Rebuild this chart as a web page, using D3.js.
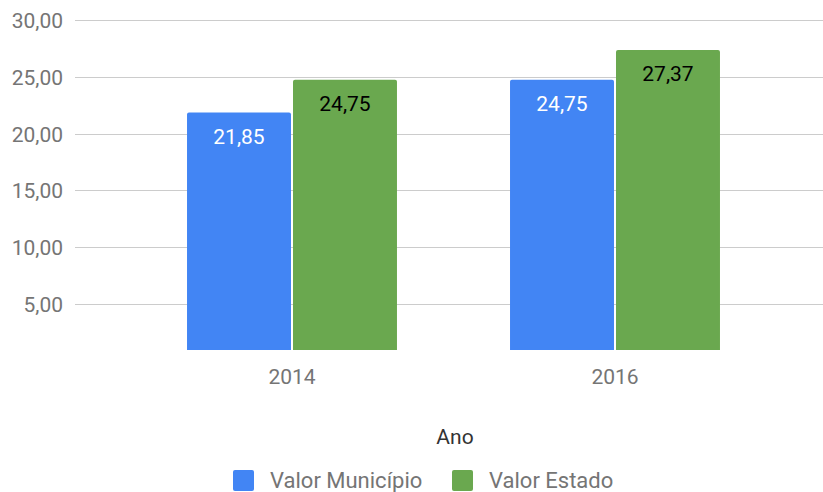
<!DOCTYPE html>
<html>
<head>
<meta charset="utf-8">
<script src="https://cdn.jsdelivr.net/npm/d3@7"></script>
<style>
    body { margin: 0; background: #fff; }
    svg { display: block; font-family: Roboto, "Noto Sans", sans-serif; }
</style>
</head>
<body>
<div id="chart"></div>
<script>
const years = ["2014", "2016"];
const seriesNames = ["Valor Município", "Valor Estado"];
const municipio = [21.85, 24.75];
const estado = [24.75, 27.37];
const yTicks = [5, 10, 15, 20, 25, 30];

const colors = ["#4285f4", "#6aa84f"];
const labelColors = ["#ffffff", "#000000"];
const fmt = v => d3.format(".2f")(v).replace(".", ",");

const width = 823;
const height = 492;

const rows = years.map((year, i) => ({
    year,
    values: [municipio[i], estado[i]]
}));

const svg = d3.select("#chart")
    .append("svg")
    .attr("width", width)
    .attr("height", height);

const y = d3.scaleLinear()
    .domain([0.95, 30])
    .range([350, 20]);

const x = d3.scaleBand()
    .domain(years)
    .range([130.5, 776.5])
    .paddingInner(0.35)
    .paddingOuter(0.175);

const xInner = d3.scaleBand()
    .domain(seriesNames)
    .range([0, x.bandwidth()])
    .paddingInner(0.019);

// gridlines + tick labels
const grid = svg.append("g");
grid.selectAll("line")
    .data(yTicks)
    .join("line")
        .attr("x1", 75)
        .attr("x2", width)
        .attr("y1", d => Math.round(y(d)) + 0.5)
        .attr("y2", d => Math.round(y(d)) + 0.5)
        .attr("stroke", "#cccccc")
        .attr("stroke-width", 1);

grid.selectAll("text")
    .data(yTicks)
    .join("text")
        .attr("x", 63)
        .attr("y", d => y(d) + 8)
        .attr("text-anchor", "end")
        .attr("fill", "#757575")
        .attr("font-size", 21)
        .text(fmt);

// bars with slightly rounded top corners
const barPath = (x0, w, top, bottom) => {
    const r = 2;
    return `M ${x0},${bottom} V ${top + r} Q ${x0},${top} ${x0 + r},${top}
        H ${x0 + w - r} Q ${x0 + w},${top} ${x0 + w},${top + r} V ${bottom} Z`;
};

const groups = svg.append("g")
    .selectAll("g")
    .data(rows)
    .join("g")
        .attr("transform", d => `translate(${x(d.year)},0)`);

const bars = groups.selectAll("g")
    .data(d => d.values.map((v, i) => ({ name: seriesNames[i], v, i })))
    .join("g");

bars.append("path")
    .attr("d", d => barPath(xInner(d.name), xInner.bandwidth(), y(d.v), y.range()[0]))
    .attr("fill", d => colors[d.i]);

bars.append("text")
    .attr("x", d => xInner(d.name) + xInner.bandwidth() / 2)
    .attr("y", d => y(d.v) + 31)
    .attr("text-anchor", "middle")
    .attr("font-size", 21)
    .attr("fill", d => labelColors[d.i])
    .text(d => fmt(d.v));

// x labels
svg.append("g")
    .selectAll("text")
    .data(years)
    .join("text")
        .attr("x", d => x(d) + x.bandwidth() / 2)
        .attr("y", 384)
        .attr("text-anchor", "middle")
        .attr("fill", "#757575")
        .attr("font-size", 21)
        .text(d => d);

svg.append("text")
    .attr("x", 455)
    .attr("y", 444)
    .attr("text-anchor", "middle")
    .attr("fill", "#333333")
    .attr("font-size", 21)
    .text("Ano");

// legend
const legendX = [233, 452];
const legend = svg.append("g")
    .selectAll("g")
    .data(seriesNames)
    .join("g")
        .attr("transform", (d, i) => `translate(${legendX[i]},470)`);

legend.append("rect")
    .attr("width", 21)
    .attr("height", 21)
    .attr("rx", 2)
    .attr("fill", (d, i) => colors[i]);

legend.append("text")
    .attr("x", 37)
    .attr("y", 17.5)
    .attr("fill", "#757575")
    .attr("font-size", 22)
    .text(d => d);
</script>
</body>
</html>
